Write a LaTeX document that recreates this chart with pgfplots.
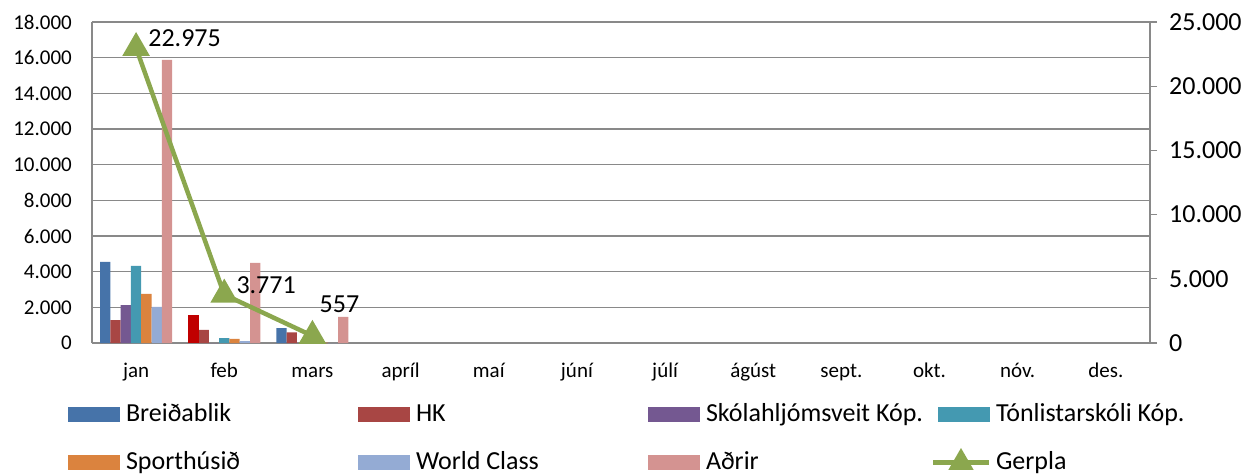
\documentclass[border=0pt]{standalone}
\usepackage{fontspec}
\setmainfont{Carlito}
\usepackage{pgfplots}
\pgfplotsset{compat=1.18}
\definecolor{cBrei}{HTML}{4673A9}
\definecolor{cHK}{HTML}{A84644}
\definecolor{cSko}{HTML}{745891}
\definecolor{cTon}{HTML}{4499B1}
\definecolor{cSpo}{HTML}{DB833E}
\definecolor{cWor}{HTML}{94ABD4}
\definecolor{cAdr}{HTML}{D49391}
\definecolor{cRed}{HTML}{C00000}
\definecolor{cGer}{HTML}{8BA74E}
\definecolor{gridc}{HTML}{898989}
\pgfplotsset{
  /pgf/number format/1000 sep={.},
  /pgf/number format/fixed,
  /pgf/number format/precision=0,
  /pgf/number format/assume math mode=true,
  mybar/.style 2 args={ybar, bar width=10.3pt, bar shift=#2, draw=none, fill=#1,
    legend image code/.code={\fill[##1] (0pt,-7.5pt) rectangle (52pt,7.5pt);}},
  gerleg/.style={legend image code/.code={\draw[##1, overlay, mark repeat=2, mark phase=2] plot coordinates {(-5pt,0pt) (23pt,0pt) (51pt,0pt)};
     \path[draw=none, fill=none] (0pt,-7.5pt) rectangle (52pt,7.5pt);}},
}
\begin{document}
\begin{tikzpicture}
\begin{axis}[name=main, scale only axis, width=1058pt, height=321pt,
  xmin=-0.5, xmax=11.5, ymin=0, ymax=18000,
  ytick={0,2000,...,18000}, scaled y ticks=false,
  xtick={0,...,11},
  xticklabels={jan,feb,mars,apríl,maí,júní,júlí,ágúst,sept.,okt.,nóv.,des.},
  axis x line*=bottom, axis y line*=left,
  axis line style={gridc, line width=1.3pt},
  ymajorgrids, grid style={gridc, line width=1.3pt},
  major tick length=0pt, tick style={draw=none},
  yticklabel style={font=\fontsize{21}{25}\selectfont, anchor=east, inner sep=0pt, xshift=-20pt},
  xticklabel style={font=\fontsize{21}{25}\selectfont, anchor=base, inner sep=0pt, yshift=-34pt},
  legend columns=4, legend cell align=left,
  legend style={at={(0,0)}, anchor=north west, xshift=-24pt, yshift=-59.5pt,
    draw=none, fill=none, inner sep=0pt, outer sep=0pt, row sep=24pt, column sep=0pt,
    font=\fontsize{26}{30}\selectfont,
    nodes={inner sep=0pt, text height=19pt, text depth=5pt},
    /tikz/every odd column/.append style={column sep=6pt}},
]
\addplot[mybar={cBrei}{-30.9pt}] coordinates {(0,4550) (2,840)};
\addlegendentry{\makebox[232pt][l]{Breiðablik}}
\addplot[mybar={cHK}{-20.6pt}] coordinates {(0,1290) (1,730) (2,600)};
\addlegendentry{\makebox[232pt][l]{HK}}
\addplot[mybar={cSko}{-10.3pt}] coordinates {(0,2130) (1,0) (2,0)};
\addlegendentry{\makebox[232pt][l]{Skólahljómsveit Kóp.}}
\addplot[mybar={cTon}{0pt}] coordinates {(0,4320) (1,280) (2,0)};
\addlegendentry{\makebox[232pt][l]{Tónlistarskóli Kóp.}}
\addplot[mybar={cSpo}{10.3pt}] coordinates {(0,2750) (1,230) (2,20)};
\addlegendentry{\makebox[232pt][l]{Sporthúsið}}
\addplot[mybar={cWor}{20.6pt}] coordinates {(0,2020) (1,100) (2,0)};
\addlegendentry{\makebox[232pt][l]{World Class}}
\addplot[mybar={cAdr}{30.9pt}] coordinates {(0,15870) (1,4490) (2,1460)};
\addlegendentry{\makebox[232pt][l]{Aðrir}}
\addplot[mybar={cRed}{-30.9pt}, forget plot] coordinates {(1,1570)};
\addlegendimage{cGer, line width=4.5pt, mark=triangle*, mark size=10pt, mark options={draw=none, fill=cGer}, gerleg}
\addlegendentry{Gerpla}
\end{axis}
\begin{axis}[scale only axis, width=1058pt, height=321pt,
  xmin=-0.5, xmax=11.5, ymin=0, ymax=25000,
  ytick={0,5000,...,25000}, scaled y ticks=false,
  axis x line=none, axis y line*=right,
  axis line style={gridc, line width=1.3pt},
  ytick style={gridc, line width=1.3pt},
  tick align=outside, major tick length=7pt,
  yticklabel style={font=\fontsize{26}{30}\selectfont, anchor=west, inner sep=0pt, xshift=12pt},
  clip=false]
\addplot[cGer, line width=4.5pt, mark=triangle*, mark size=11.5pt, mark options={draw=none, fill=cGer},
  nodes near coords, point meta=y,
  every node near coord/.append style={font=\fontsize{26}{30}\selectfont, text=black, anchor=base west, inner sep=0pt, xshift=10pt, yshift=1pt},
  coordinate style/.condition={x==2}{xshift=-5pt, yshift=22pt}]
  coordinates {(0,22975) (1,3771) (2,557)};
\end{axis}
\pgfresetboundingbox
\path ([shift={(-92pt,-131pt)}]main.south west) rectangle ([shift={(104pt,22pt)}]main.north east);
\end{tikzpicture}
\end{document}
